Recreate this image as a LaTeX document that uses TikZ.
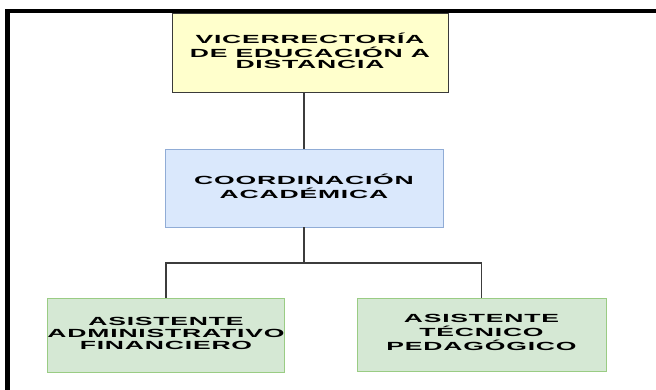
\documentclass[tikz,border=0pt]{standalone}
\usepackage{fontspec}
\setmainfont{Liberation Sans}
\newfontfamily\boxfont{Liberation Sans}[LetterSpace=3]
\newfontfamily\titlefont{Liberation Sans}
\newcommand{\wide}[1]{\scalebox{2.25}[1]{\begin{tabular}{@{}c@{}}#1\end{tabular}}}
\definecolor{vicfill}{HTML}{FFFFCC}
\definecolor{vicdraw}{HTML}{3A3A3A}
\definecolor{coofill}{HTML}{DAE8FC}
\definecolor{coodraw}{HTML}{90ACD6}
\definecolor{asifill}{HTML}{D5E8D4}
\definecolor{asidraw}{HTML}{9ACC84}
\definecolor{linecol}{HTML}{3C3C3C}
\tikzset{
  orgbox/.style={rectangle, inner sep=0pt, align=center, line width=0.9pt,
    font=\boxfont\bfseries\fontsize{11.8}{11.8}\selectfont},
  conn/.style={draw=linecol, line width=1.6pt},
  framerule/.style={draw=black, line cap=rect}
}
\begin{document}
\begin{tikzpicture}[x=1pt,y=-1pt]
\useasboundingbox (0,0) rectangle (656,390);
\clip (0,0) rectangle (656,390);
\node[anchor=base west, inner sep=0pt, text=black!70,
  font=\titlefont\bfseries\fontsize{21}{21}\selectfont] (title) at (2,-1.5)
  {Estructura del Sistema de Educación a Distancia};
\node[orgbox, fill=vicfill, draw=vicdraw, minimum width=276pt, minimum height=79pt]
  (vic) at (310,52.5) {\wide{VICERRECTORÍA\\DE EDUCACIÓN A\\DISTANCIA}};
\node[orgbox, fill=coofill, draw=coodraw, minimum width=278pt, minimum height=78pt]
  (coo) at (304,188) {\wide{COORDINACIÓN\\ACADÉMICA}};
\node[orgbox, fill=asifill, draw=asidraw, minimum width=234pt, minimum height=74pt]
  (adm) at (166,335) {\wide{ASISTENTE\\ADMINISTRATIVO\\FINANCIERO}};
\node[orgbox, fill=asifill, draw=asidraw, minimum width=249pt, minimum height=73pt]
  (tec) at (481.5,334.5) {\wide{ASISTENTE\\TÉCNICO\\PEDAGÓGICO}};
\coordinate (bus) at (304,263);
\draw[conn] (coo.north) -- (coo.north |- vic.south);
\draw[conn] (coo.south) -- (bus);
\draw[conn, line width=1.2pt] (adm.north) |- (bus) -| (tec.north);
\draw[framerule, line width=4pt] (7.5,11.5) -- (660,11.5);
\draw[framerule, line width=5pt] (7.5,11.5) -- (7.5,395);
\end{tikzpicture}
\end{document}
